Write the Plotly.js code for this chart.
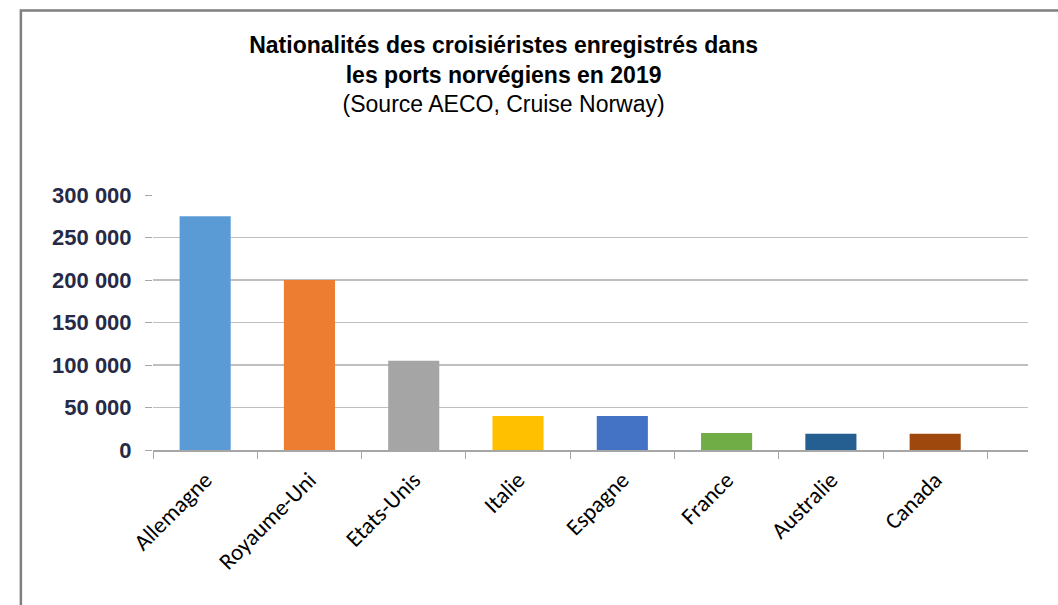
<!DOCTYPE html>
<html>
<head>
<meta charset="utf-8">
<script src="https://cdn.plot.ly/plotly-3.0.1.min.js"></script>
<style>
html, body { margin: 0; padding: 0; background: #fff; }
#chart { width: 1058px; height: 605px; }
</style>
</head>
<body>
<div id="chart"></div>
<script>
const categories = ['Allemagne', 'Royaume-Uni', 'Etats-Unis', 'Italie', 'Espagne', 'France', 'Australie', 'Canada'];
const passengers = [275000, 200000, 105000, 40000, 40000, 20000, 19000, 19000];
const barColors = ['#5B9BD5', '#ED7D31', '#A5A5A5', '#FFC000', '#4472C4', '#70AD47', '#255E91', '#9E480E'];
const yTickValues = [0, 50000, 100000, 150000, 200000, 250000, 300000];
const yTickLabels = ['0', '50 000', '100 000', '150 000', '200 000', '250 000', '300 000'];

const trace = {
  type: 'bar',
  x: categories,
  y: passengers,
  marker: { color: barColors, line: { width: 0 } },
  hoverinfo: 'x+y'
};

const layout = {
  width: 1058,
  height: 605,
  margin: { l: 153, r: 30, t: 195, b: 155 },
  paper_bgcolor: '#ffffff',
  plot_bgcolor: '#ffffff',
  showlegend: false,
  bargap: 0.51,
  font: { family: 'Liberation Sans, Arial, sans-serif', color: '#000' },
  title: {
    text: '<b>Nationalités des croisiéristes enregistrés dans<br>les ports norvégiens en 2019</b><br>(Source AECO, Cruise Norway)',
    font: { family: 'Liberation Sans, Arial, sans-serif', size: 23, color: '#000', lineposition: 'none' },
    xref: 'container', x: 0.476, xanchor: 'center',
    yref: 'container', y: 0.913, yanchor: 'top'
  },
  xaxis: {
    type: 'category',
    range: [-0.5, 7.89],
    tickangle: -45,
    tickson: 'boundaries',
    ticks: 'outside',
    ticklen: 7,
    tickcolor: '#a6a6a6',
    tickwidth: 1,
    ticklabelstandoff: 6,
    showline: true,
    linecolor: '#a6a6a6',
    linewidth: 1.5,
    showgrid: false,
    tickfont: { family: 'Carlito, Lato, sans-serif', size: 23, color: '#000' },
    fixedrange: true
  },
  yaxis: {
    range: [0, 300000],
    tickvals: yTickValues,
    ticktext: yTickLabels,
    ticks: 'outside',
    ticklen: 7,
    tickcolor: '#a6a6a6',
    ticklabelstandoff: 9,
    showline: false,
    showgrid: true,
    gridcolor: '#bfbfbf',
    gridwidth: 1.5,
    zeroline: false,
    tickfont: { family: 'Liberation Sans, Arial, sans-serif', size: 22, color: '#262a46', weight: 'bold' },
    fixedrange: true
  },
  shapes: [
    {
      type: 'rect', xref: 'paper', yref: 'paper',
      x0: -0.151, x1: 1.05, y0: -0.7, y1: 1.7235,
      line: { color: '#7f7f7f', width: 2.5 },
      fillcolor: 'rgba(0,0,0,0)',
      layer: 'below'
    }
  ]
};

Plotly.newPlot('chart', [trace], layout, { displayModeBar: false, staticPlot: true });
</script>
</body>
</html>
